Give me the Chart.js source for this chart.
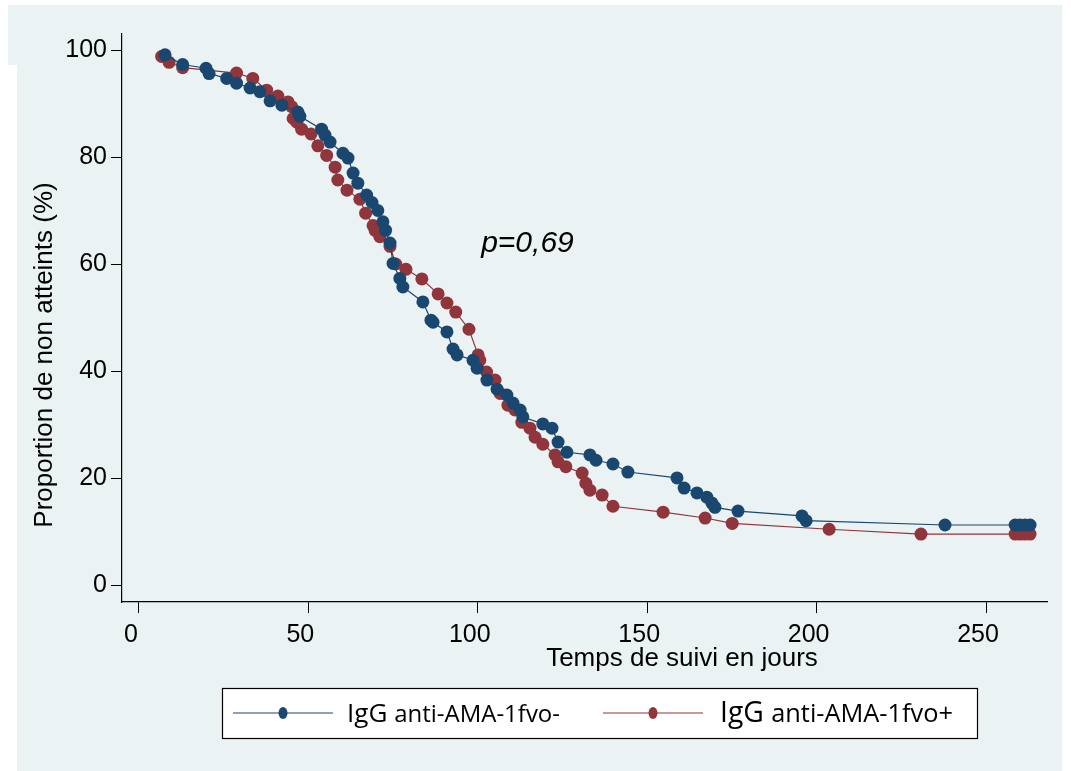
<!DOCTYPE html>
<html>
<head>
<meta charset="utf-8">
<script src="https://cdn.jsdelivr.net/npm/chart.js@4.4.1/dist/chart.umd.min.js"></script>
<style>
  html, body { margin: 0; padding: 0; background: #ffffff; }
  #wrap { position: relative; width: 1071px; height: 771px; overflow: hidden; }
  .bg { position: absolute; background: #EAF2F3; }
  #chart { position: absolute; left: 0; top: 0; }
</style>
</head>
<body>
<div id="wrap">
  <div class="bg" style="left:17px; top:5px; width:1045px; height:766px;"></div>
  <div class="bg" style="left:8px; top:5px; width:12px; height:60px;"></div>
  <canvas id="chart" width="1071" height="771"></canvas>
</div>
<script>
// Kaplan-Meier : IgG anti-AMA-1fvo- (bleu)
var blueDays = [7.7, 12.9, 19.8, 20.7, 25.9, 28.8, 32.8, 35.7, 38.7, 42.2, 46.9, 47.5,
  53.9, 54.9, 56.4, 60.2, 61.7, 63.2, 64.6, 67.2, 68.8, 70.5, 72.0, 72.8, 74.1, 75.0,
  77.0, 77.9, 83.8, 86.2, 86.8, 90.9, 92.7, 93.9, 98.6, 99.8, 102.7, 105.7, 108.6,
  110.4, 112.5, 113.3, 119.2, 121.9, 123.7, 126.3, 133.1, 134.9, 139.9, 144.3, 158.8,
  160.9, 164.7, 167.6, 169.1, 170.0, 176.8, 195.7, 196.9, 237.9, 258.6, 260.0, 261.5, 263.0];
var blueSurv = [99.2, 97.4, 96.7, 95.7, 94.8, 93.9, 93.0, 92.3, 90.6, 89.8, 88.5, 87.7,
  85.3, 84.2, 82.9, 80.8, 79.9, 77.1, 75.2, 73.0, 71.6, 70.1, 68.0, 66.4, 64.0, 60.2,
  57.4, 55.8, 53.0, 49.6, 49.2, 47.4, 44.2, 43.1, 42.1, 40.6, 38.4, 36.7, 35.6,
  34.1, 32.8, 31.5, 30.2, 29.4, 26.8, 24.9, 24.4, 23.4, 22.7, 21.2, 20.1,
  18.2, 17.3, 16.5, 15.4, 14.6, 13.9, 13.0, 12.1, 11.3, 11.3, 11.3, 11.3, 11.3];

// Kaplan-Meier : IgG anti-AMA-1fvo+ (rouge)
var redDays = [6.7, 8.9, 12.9, 28.8, 33.6, 37.7, 41.0, 44.0, 45.1, 45.5, 46.6, 48.0,
  50.8, 52.8, 55.4, 57.9, 58.7, 61.4, 65.2, 66.9, 69.1, 69.7, 71.1, 74.1, 75.8, 78.8,
  83.5, 88.3, 90.9, 93.5, 97.4, 100.1, 100.6, 102.6, 105.1, 106.6, 108.9, 111.0,
  113.0, 115.4, 116.9, 119.2, 122.8, 123.7, 126.0, 130.8, 131.9, 133.1, 136.7,
  139.9, 154.7, 167.1, 175.1, 203.7, 230.8, 258.6, 260.0, 261.5, 263.0];
var redSurv = [98.9, 97.8, 96.8, 95.8, 94.8, 92.6, 91.5, 90.4, 89.5, 87.3, 86.6, 85.3,
  84.4, 82.2, 80.4, 78.2, 75.8, 73.9, 72.2, 69.6, 67.3, 66.4, 65.2, 63.4, 60.1, 59.1,
  57.3, 54.5, 52.8, 51.1, 47.9, 43.1, 42.1, 39.9, 38.4, 35.9, 33.7, 32.8,
  30.5, 29.4, 27.7, 26.4, 24.4, 23.1, 22.2, 21.0, 19.1, 17.8, 16.9,
  14.8, 13.7, 12.6, 11.6, 10.5, 9.6, 9.6, 9.6, 9.6, 9.6];

var xTicks = [0, 50, 100, 150, 200, 250];
var yTicks = [0, 20, 40, 60, 80, 100];
var seriesNames = ['IgG anti-AMA-1fvo-', 'IgG anti-AMA-1fvo+'];
var pText = 'p=0,69';

var navy = '#1A476F';
var maroon = '#90353B';

function toPoints(xs, ys) {
  return xs.map(function (x, i) { return { x: x, y: ys[i] }; });
}

// fits text to a given width by squeezing horizontally
function fitText(ctx, parts, x, y, width) {
  var total = 0;
  parts.forEach(function (p) { ctx.font = p.font; total += ctx.measureText(p.text).width; });
  ctx.save();
  ctx.translate(x, y);
  ctx.scale(width / total, 1);
  var cx = 0;
  parts.forEach(function (p) {
    ctx.font = p.font;
    ctx.fillText(p.text, cx, 0);
    cx += ctx.measureText(p.text).width;
  });
  ctx.restore();
}

var extras = {
  id: 'extras',
  afterDraw: function (chart) {
    var ctx = chart.ctx;
    var xs = chart.scales.x, ys = chart.scales.y;
    ctx.save();
    ctx.fillStyle = '#000';

    // axis titles
    ctx.font = '26px "Liberation Sans", Arial, sans-serif';
    ctx.textAlign = 'center';
    ctx.textBaseline = 'middle';
    ctx.fillText('Temps de suivi en jours', 682, 659);
    ctx.save();
    ctx.translate(45, 355);
    ctx.rotate(-Math.PI / 2);
    ctx.fillText('Proportion de non atteints (%)', 0, 0);
    ctx.restore();

    // p-value
    ctx.font = 'italic 30px "Liberation Sans", Arial, sans-serif';
    ctx.textAlign = 'left';
    ctx.textBaseline = 'alphabetic';
    ctx.fillText(pText, xs.getPixelForValue(101), ys.getPixelForValue(62.3));

    // legend box
    ctx.fillStyle = '#ffffff';
    ctx.fillRect(222, 688, 755, 50);
    ctx.strokeStyle = '#000';
    ctx.lineWidth = 1.2;
    ctx.strokeRect(222.5, 688.5, 755, 50);

    var items = [
      { color: navy, x0: 233, x1: 333, tx: 347, tw: 213, big: 25, small: 23 },
      { color: maroon, x0: 603, x1: 703, tx: 720, tw: 233, big: 29, small: 26 }
    ];
    items.forEach(function (it, i) {
      ctx.strokeStyle = it.color;
      ctx.lineWidth = 1.2;
      ctx.beginPath();
      ctx.moveTo(it.x0, 713);
      ctx.lineTo(it.x1, 713);
      ctx.stroke();
      ctx.fillStyle = it.color;
      ctx.beginPath();
      ctx.ellipse((it.x0 + it.x1) / 2, 713, 4.5, 6, 0, 0, Math.PI * 2);
      ctx.fill();
      ctx.fillStyle = '#000';
      ctx.textBaseline = 'alphabetic';
      var name = seriesNames[i];
      fitText(ctx, [
        { text: name.slice(0, 4), font: it.big + 'px "Open Sans", sans-serif' },
        { text: name.slice(4), font: it.small + 'px "Open Sans", sans-serif' }
      ], it.tx, 722, it.tw);
    });
    ctx.restore();
  }
};

new Chart(document.getElementById('chart'), {
  type: 'line',
  data: {
    datasets: [
      {
        label: seriesNames[0],
        data: toPoints(blueDays, blueSurv),
        borderColor: navy,
        backgroundColor: navy,
        borderWidth: 1.2,
        pointRadius: 6.5,
        pointBorderWidth: 0,
        tension: 0
      },
      {
        label: seriesNames[1],
        data: toPoints(redDays, redSurv),
        borderColor: maroon,
        backgroundColor: maroon,
        borderWidth: 1.2,
        pointRadius: 6.5,
        pointBorderWidth: 0,
        tension: 0
      }
    ]
  },
  options: {
    responsive: false,
    animation: false,
    layout: { padding: { top: 34, right: 24, left: 0, bottom: 0 } },
    plugins: {
      legend: { display: false },
      tooltip: { enabled: false }
    },
    scales: {
      x: {
        type: 'linear',
        min: -5,
        max: 268,
        afterBuildTicks: function (s) { s.ticks = xTicks.map(function (v) { return { value: v }; }); },
        afterFit: function (s) { s.height = 169; },
        grid: { drawOnChartArea: false, drawTicks: true, tickLength: 11, color: '#000', lineWidth: 1 },
        border: { display: true, color: '#000', width: 1.2 },
        ticks: {
          color: '#000',
          font: { family: '"Liberation Sans", Arial, sans-serif', size: 25 },
          padding: 7,
          labelOffset: -8,
          maxRotation: 0
        }
      },
      y: {
        type: 'linear',
        min: -3.1,
        max: 103.1,
        afterBuildTicks: function (s) { s.ticks = yTicks.map(function (v) { return { value: v }; }); },
        afterFit: function (s) { s.width = 122; },
        grid: { drawOnChartArea: false, drawTicks: true, tickLength: 11, color: '#000', lineWidth: 1 },
        border: { display: true, color: '#000', width: 1.2 },
        ticks: {
          color: '#000',
          font: { family: '"Liberation Sans", Arial, sans-serif', size: 25 },
          padding: 4
        }
      }
    }
  },
  plugins: [extras]
});
</script>
</body>
</html>
